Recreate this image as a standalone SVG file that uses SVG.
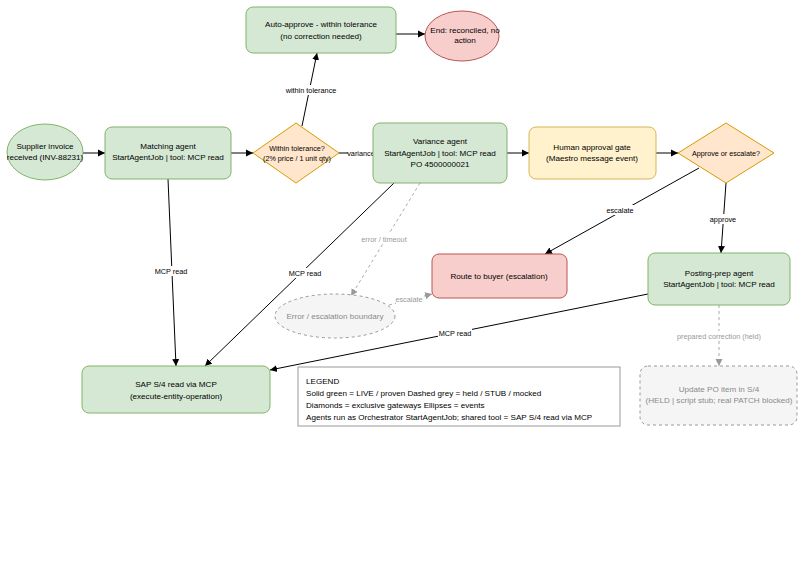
<svg xmlns="http://www.w3.org/2000/svg" width="806" height="568" viewBox="0 0 806 568">
<defs>
<marker id="ah" markerWidth="8" markerHeight="8" refX="7" refY="4" orient="auto" markerUnits="userSpaceOnUse"><path d="M0,0.5 L7,4 L0,7.5 Z" fill="#000"/></marker>
<marker id="ahg" markerWidth="8" markerHeight="8" refX="7" refY="4" orient="auto" markerUnits="userSpaceOnUse"><path d="M0,0.5 L7,4 L0,7.5 Z" fill="#999"/></marker>
</defs>
<style>
text{font-family:"Liberation Sans",Arial,sans-serif;font-size:8.1px;fill:#000;text-anchor:middle}
.green{fill:#d5e8d4;stroke:#82b366;stroke-width:1}
.orange{fill:#ffe6cc;stroke:#d79b00;stroke-width:1}
.yellow{fill:#fff2cc;stroke:#d6b656;stroke-width:1}
.red{fill:#f8cecc;stroke:#b85450;stroke-width:1}
.grey{fill:#f5f5f5;stroke:#999;stroke-width:1;stroke-dasharray:3 3}
.gt{fill:#8a8a8a}
.e{fill:none;stroke:#000;stroke-width:1;marker-end:url(#ah)}
.ed{fill:none;stroke:#aaa;stroke-width:1;stroke-dasharray:3 3;marker-end:url(#ahg)}
.lbl{font-size:7.3px}
.lblg{font-size:7.3px;fill:#999}
.sm{font-size:7.2px}
.lt{text-anchor:start}
</style>
<rect width="806" height="568" fill="#fff"/>
<g id="connectors">
<line class="e" x1="83" y1="153" x2="105" y2="153"/>
<line class="e" x1="231" y1="153" x2="253" y2="153"/>
<line class="e" x1="302" y1="126" x2="317" y2="53"/>
<rect x="285" y="85" width="52" height="10" fill="#fff"/>
<text class="lbl" x="311" y="93">within tolerance</text>
<line class="e" x1="396" y1="34" x2="425" y2="34"/>
<line x1="339" y1="153" x2="373" y2="153" stroke="#000"/>
<rect x="348" y="148" width="27" height="10" fill="#fff"/>
<text class="lbl" x="361" y="156">variance</text>
<line class="e" x1="699" y1="168" x2="545" y2="254"/>
<rect x="606" y="205" width="29" height="10" fill="#fff"/>
<text class="lbl" x="620" y="213">escalate</text>
<line class="e" x1="726" y1="183" x2="721" y2="253"/>
<rect x="709" y="214" width="28" height="10" fill="#fff"/>
<text class="lbl" x="723" y="222">approve</text>
<line class="e" x1="507" y1="153" x2="529" y2="153"/>
<line class="e" x1="656" y1="153" x2="678" y2="153"/>
<line class="e" x1="168" y1="179" x2="176" y2="366"/>
<rect x="154" y="266" width="34" height="10" fill="#fff"/>
<text class="lbl" x="171" y="274">MCP read</text>
<line class="e" x1="394" y1="183" x2="205" y2="366"/>
<rect x="288" y="268" width="34" height="10" fill="#fff"/>
<text class="lbl" x="305" y="276">MCP read</text>
<line class="e" x1="648" y1="294" x2="270" y2="370"/>
<rect x="438" y="328" width="34" height="10" fill="#fff"/>
<text class="lbl" x="455" y="336">MCP read</text>
<line class="ed" x1="420" y1="183" x2="351" y2="296"/>
<rect x="360" y="234" width="48" height="10" fill="#fff"/>
<text class="lblg" x="384" y="242">error / timeout</text>
<line class="ed" x1="389" y1="305" x2="432" y2="294"/>
<rect x="396" y="294" width="27" height="10" fill="#fff"/>
<text class="lblg" x="409" y="302">escalate</text>
<line class="ed" x1="719" y1="305" x2="719" y2="366"/>
<rect x="676" y="331" width="86" height="10" fill="#fff"/>
<text class="lblg" x="719" y="339">prepared correction (held)</text>
</g>
<g id="supplier-invoice">
<ellipse class="green" cx="45" cy="152" rx="38" ry="28"/>
<text x="45" y="149" font-size="7.5">Supplier invoice</text>
<text x="45" y="160" font-size="7.5">received (INV-88231)</text>
</g>
<g id="matching-agent">
<rect class="green" x="105" y="127" width="126" height="52" rx="7"/>
<text x="168" y="149">Matching agent</text>
<text x="168" y="160">StartAgentJob | tool: MCP read</text>
</g>
<g id="within-tolerance">
<path class="orange" d="M296,123 L339,153 L296,183 L253,153 Z"/>
<text class="sm" x="297" y="151">Within tolerance?</text>
<text class="sm" x="297" y="161">(2% price / 1 unit qty)</text>
</g>
<g id="auto-approve">
<rect class="green" x="246" y="7" width="150" height="46" rx="7"/>
<text x="321" y="27">Auto-approve - within tolerance</text>
<text x="321" y="39">(no correction needed)</text>
</g>
<g id="end">
<ellipse class="red" cx="462" cy="36" rx="37" ry="25"/>
<text x="465" y="33" font-size="7">End: reconciled, no</text>
<text x="465" y="43" font-size="7">action</text>
</g>
<g id="variance-agent">
<rect class="green" x="373" y="123" width="134" height="60" rx="7"/>
<text x="440" y="144">Variance agent</text>
<text x="440" y="156">StartAgentJob | tool: MCP read</text>
<text x="440" y="167">PO 4500000021</text>
</g>
<g id="human-approval">
<rect class="yellow" x="529" y="127" width="127" height="52" rx="7"/>
<text x="592" y="150">Human approval gate</text>
<text x="592" y="161">(Maestro message event)</text>
</g>
<g id="approve-escalate">
<path class="orange" d="M726,123 L774,153 L726,183 L678,153 Z"/>
<text class="sm" x="726" y="156">Approve or escalate?</text>
</g>
<g id="route-to-buyer">
<rect class="red" x="432" y="254" width="135" height="44" rx="7"/>
<text x="499" y="279">Route to buyer (escalation)</text>
</g>
<g id="error-boundary">
<ellipse class="grey" cx="335" cy="316" rx="60" ry="22"/>
<text class="gt" x="335" y="319" font-size="7.2">Error / escalation boundary</text>
</g>
<g id="posting-prep">
<rect class="green" x="648" y="253" width="142" height="52" rx="7"/>
<text x="719" y="276">Posting-prep agent</text>
<text x="719" y="287">StartAgentJob | tool: MCP read</text>
</g>
<g id="sap-read">
<rect class="green" x="82" y="366" width="188" height="47" rx="7"/>
<text x="176" y="387">SAP S/4 read via MCP</text>
<text x="176" y="399">(execute-entity-operation)</text>
</g>
<g id="update-po">
<rect class="grey" x="640" y="366" width="157" height="59" rx="8"/>
<text class="gt" x="719" y="392">Update PO item in S/4</text>
<text class="gt" x="719" y="403">(HELD | script stub; real PATCH blocked)</text>
</g>
<g id="legend">
<rect x="298" y="367" width="322" height="59" fill="#fff" stroke="#999" stroke-width="1"/>
<text class="lt" x="306" y="384">LEGEND</text>
<text class="lt" x="306" y="396">Solid green = LIVE / proven Dashed grey = held / STUB / mocked</text>
<text class="lt" x="306" y="408">Diamonds = exclusive gateways Ellipses = events</text>
<text class="lt" x="306" y="420">Agents run as Orchestrator StartAgentJob; shared tool = SAP S/4 read via MCP</text>
</g>
</svg>
